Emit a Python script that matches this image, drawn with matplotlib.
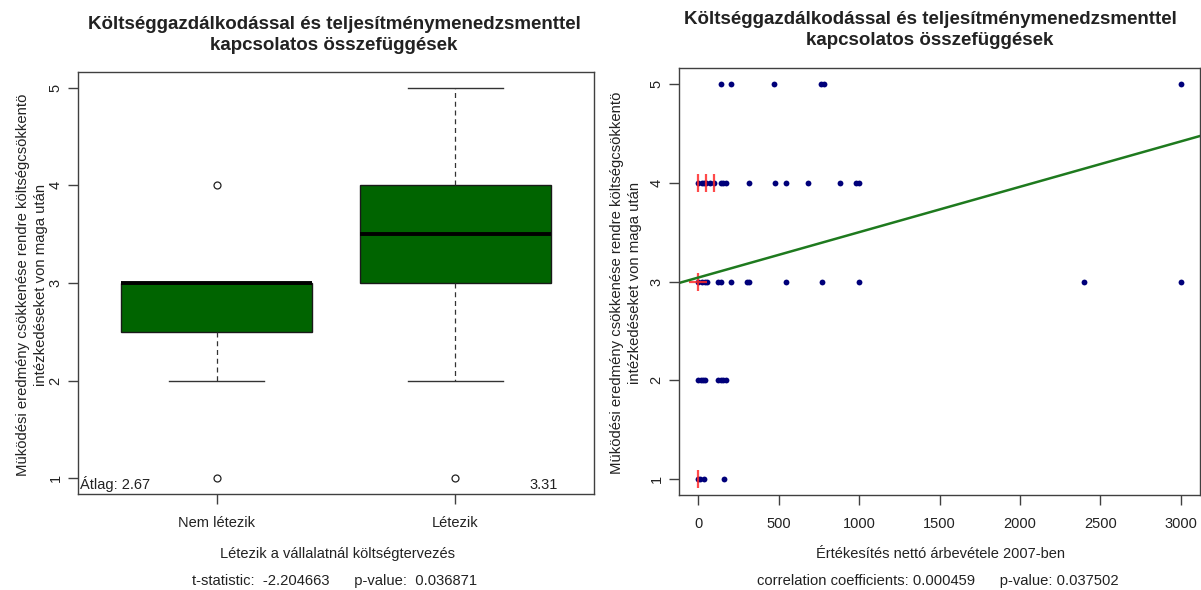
import matplotlib
matplotlib.use('Agg')
import matplotlib.pyplot as plt

plt.rcParams['font.family'] = ['Liberation Sans', 'DejaVu Sans']

# ---------------- data ----------------
title_text = "Költséggazdálkodással és teljesítménymenedzsmenttel\nkapcsolatos összefüggések"
ylabel_text = "Müködési eredmény csökkenése rendre költségcsökkentö\nintézkedéseket von maga után"

groups = ["Nem létezik", "Létezik"]
box_q1 = [2.5, 3.0]
box_median = [3.0, 3.5]
box_q3 = [3.0, 4.0]
whisker_low = [2.0, 2.0]
whisker_high = [3.0, 5.0]
box_outliers = [[4.0, 1.0], [1.0]]
mean_labels = ["Átlag: 2.67", "3.31"]
left_xlabel = "Létezik a vállalatnál költségtervezés"
left_stats = "t-statistic:  -2.204663      p-value:  0.036871"

# scatter: sales (x) per answer level (y)
sales_level5 = [140, 205, 470, 760, 780, 3000]
sales_level4 = [0, 20, 35, 50, 70, 100, 140, 155, 170, 315, 480, 545, 680, 880, 980, 1000]
sales_level3 = [0, 20, 40, 55, 120, 140, 205, 305, 315, 545, 770, 1000, 2400, 3000]
sales_level2 = [0, 15, 30, 40, 125, 140, 155, 170]
sales_level1 = [0, 10, 35, 160]
levels = [5, 4, 3, 2, 1]

# duplicated points (sunflower petals)
dup_x = [0, 50, 100, 0, 0]
dup_y = [4, 4, 4, 3, 1]
dup_count = [2, 2, 2, 4, 2]

reg_intercept = 3.04
reg_slope = 0.000459
x_ticks_right = [0, 500, 1000, 1500, 2000, 2500, 3000]
right_xlabel = "Értékesítés nettó árbevétele 2007-ben"
right_stats = "correlation coefficients: 0.000459      p-value: 0.037502"
y_ticks = [1, 2, 3, 4, 5]

# ---------------- figure ----------------
W, H = 1201, 590
fig = plt.figure(figsize=(W / 100, H / 100), dpi=100)

def px_axes(x0, y0, x1, y1):
    return fig.add_axes([x0 / W, 1 - y1 / H, (x1 - x0) / W, (y1 - y0) / H])

spine_col = '#404040'
txt_col = '#222222'
tick_fs = 10.5

def style(ax):
    for s in ax.spines.values():
        s.set_color(spine_col)
        s.set_linewidth(1.0)
    ax.tick_params(direction='out', length=7, width=1.0, color=spine_col,
                   labelsize=tick_fs, labelcolor=txt_col)
    ax.tick_params(axis='x', pad=9)
    ax.tick_params(axis='y', pad=4)
    ax.set_yticks(y_ticks)
    ax.set_yticklabels([str(v) for v in y_ticks], rotation=90, va='center')

# ---- left: boxplot ----
ax1 = px_axes(78, 72, 594, 494)
stats = []
for i in range(len(groups)):
    stats.append(dict(med=box_median[i], q1=box_q1[i], q3=box_q3[i],
                      whislo=whisker_low[i], whishi=whisker_high[i],
                      fliers=box_outliers[i], label=groups[i]))
ax1.bxp(stats, positions=[1, 2], widths=0.8, capwidths=0.4, patch_artist=True,
        boxprops=dict(facecolor='#006400', edgecolor='#1a1a1a', linewidth=1.0),
        medianprops=dict(color='black', linewidth=2.8, solid_capstyle='butt'),
        whiskerprops=dict(color='#333333', linewidth=0.9, linestyle=(0, (4, 3))),
        capprops=dict(color='#333333', linewidth=1.0),
        flierprops=dict(marker='o', markersize=5, markerfacecolor='none',
                        markeredgecolor='#222222', markeredgewidth=0.9))
ax1.set_xlim(0.42, 2.58)
ax1.set_ylim(0.84, 5.16)
style(ax1)
ax1.set_xticks([1, 2])
ax1.set_xticklabels(groups)
ax1.text(0.43, 0.86, mean_labels[0], ha='left', va='bottom', fontsize=10.5, color=txt_col)
ax1.text(2.43, 0.86, mean_labels[1], ha='right', va='bottom', fontsize=10.5, color=txt_col)

fig.text(334 / W, 1 - 35 / H, title_text, ha='center', va='center', fontsize=13.5,
         fontweight='bold', linespacing=1.35, color=txt_col)
fig.text(32 / W, 1 - 285 / H, ylabel_text, ha='center', va='center', rotation=90,
         fontsize=10.75, linespacing=1.45, color=txt_col)
fig.text(337 / W, 1 - 554 / H, left_xlabel, ha='center', va='center', fontsize=10.5, color=txt_col)
fig.text(335 / W, 1 - 581 / H, left_stats, ha='center', va='center', fontsize=10.6, color=txt_col)

# ---- right: scatter ----
ax2 = px_axes(679, 68, 1200, 495)
all_sales = [sales_level5, sales_level4, sales_level3, sales_level2, sales_level1]
for lev, xs in zip(levels, all_sales):
    ax2.plot(xs, [lev] * len(xs), linestyle='none', marker='o', markersize=4.2,
             color='#00007a', markeredgewidth=0)
for x, y, n in zip(dup_x, dup_y, dup_count):
    mk = '|' if n == 2 else '+'
    ax2.plot([x], [y], linestyle='none', marker=mk, markersize=13,
             markeredgewidth=1.6, color='#ff2a2a', alpha=0.85)
ax2.set_xlim(-120, 3120)
ax2.set_ylim(0.84, 5.16)
ax2.axline((0, reg_intercept), slope=reg_slope, color='#1e7a1e', linewidth=1.8)
style(ax2)
ax2.set_xticks(x_ticks_right)

fig.text(930 / W, 1 - 30 / H, title_text, ha='center', va='center', fontsize=13.5,
         fontweight='bold', linespacing=1.35, color=txt_col)
fig.text(626 / W, 1 - 283 / H, ylabel_text, ha='center', va='center', rotation=90,
         fontsize=10.75, linespacing=1.45, color=txt_col)
fig.text(940 / W, 1 - 554 / H, right_xlabel, ha='center', va='center', fontsize=10.5, color=txt_col)
fig.text(938 / W, 1 - 581 / H, right_stats, ha='center', va='center', fontsize=10.6, color=txt_col)

fig.savefig('out.png', dpi=100)
